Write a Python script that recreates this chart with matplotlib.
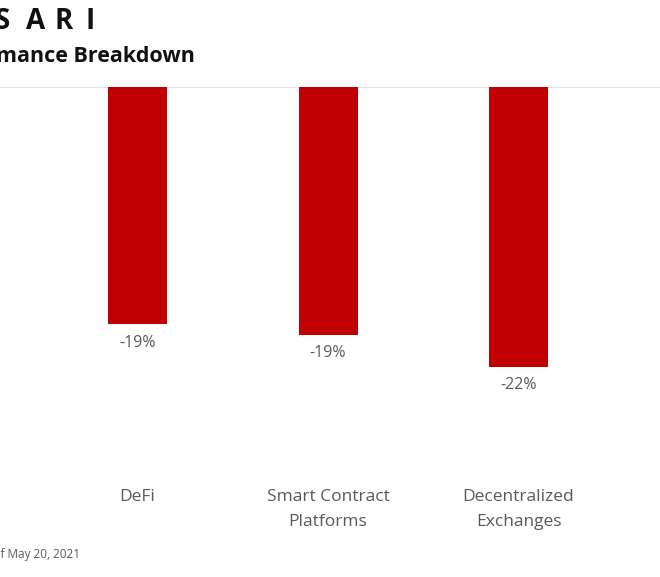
import matplotlib.pyplot as plt

categories = ["DeFi", "Smart Contract\nPlatforms", "Decentralized\nExchanges"]
returns = [-18.4, -19.2, -21.7]
value_labels = ["-19%", "-19%", "-22%"]

W, H = 660, 577
plt.rcParams['font.family'] = ['Open Sans', 'DejaVu Sans']

fig = plt.figure(figsize=(W / 100, H / 100), dpi=100)

# axes: top edge on the zero line, full width
top_px, bot_px = 87, 474
ax = fig.add_axes([0, 1 - bot_px / H, 1, (bot_px - top_px) / H])
spacing = 190.5
x0 = -137.5 / spacing
ax.set_xlim(x0, x0 + W / spacing)
ax.set_ylim(-30, 0)

xs = range(len(categories))
ax.bar(xs, returns, width=59 / spacing, color="#c00000", zorder=2)
ax.axhline(0, color="#d9d9d9", lw=1.2, zorder=1)

for x, v, lab in zip(xs, returns, value_labels):
    ax.annotate(lab, (x, v), xytext=(0, -7.5), textcoords="offset points",
                ha="center", va="top", fontsize=11.5, color="#595959")

for x, c in zip(xs, categories):
    fig.text((x - x0) * spacing / W, 1 - 489 / H, c, ha="center", va="top",
             fontsize=12.5, color="#595959", linespacing=1.75)

ax.axis("off")

# header, cropped at the left edge like the reference
for ch, px in zip("SARI", [2, 36, 64, 90]):
    fig.text(px / W, 1 - 29 / H, ch, ha="center", va="baseline",
             fontsize=20, fontweight="bold", color="#111111")
fig.text(195 / W, 1 - 62 / H, "Sector Performance Breakdown", ha="right",
         va="baseline", fontsize=15.5, fontweight="bold", color="#111111")
fig.text(80 / W, 1 - 558 / H, "Source: Messari, data as of May 20, 2021",
         ha="right", va="baseline", fontsize=8.5, color="#595959")

fig.savefig("out.png", dpi=100)
